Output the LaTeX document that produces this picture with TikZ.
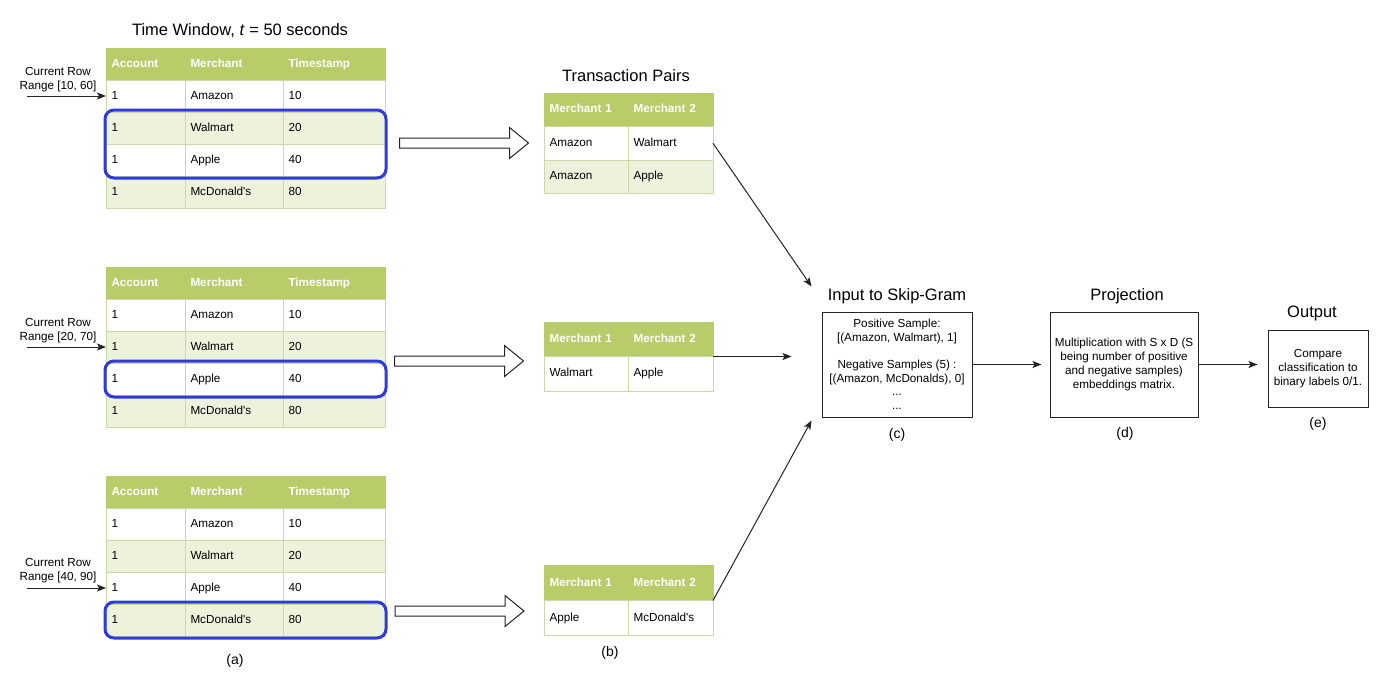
\documentclass[tikz,border=0pt]{standalone}
\usepackage{fontspec}
\setmainfont{Liberation Sans}
\usetikzlibrary{positioning, fit, arrows.meta}

\definecolor{hdrgreen}{RGB}{184,205,106}
\definecolor{rowgreen}{RGB}{237,242,221}
\definecolor{gridc}{RGB}{205,216,170}
\definecolor{hiblue}{RGB}{46,58,220}
\definecolor{linec}{RGB}{35,35,35}

\tikzset{
  cell/.style = {rectangle, draw=gridc, line width=1pt, anchor=north west,
                 outer sep=0pt, inner xsep=5.5pt, inner ysep=0pt, align=left,
                 text height=8.6pt, text depth=2.4pt,
                 font=\fontsize{11.7}{14}\selectfont},
  hdr/.style = {cell, fill=hdrgreen, draw=hdrgreen, text=white,
                font=\fontsize{11.7}{14}\selectfont\bfseries},
  roww/.style = {cell, fill=white},
  rowg/.style = {cell, fill=rowgreen},
  hilite/.style = {rectangle, draw=hiblue, line width=3pt, rounded corners=9pt,
                   inner xsep=1pt, inner ysep=2pt},
  hollow/.style = {draw=linec, line width=1pt, fill=white},
  conn/.style = {draw=linec, line width=1pt, -{Stealth[length=9pt, width=7pt, inset=2pt]}},
  block/.style = {rectangle, draw=linec, line width=1pt, align=center,
                  font=\fontsize{11.7}{13.7}\selectfont},
  title/.style = {font=\fontsize{16.5}{20}\selectfont},
  sublabel/.style = {font=\fontsize{14}{17}\selectfont},
  note/.style = {align=center, font=\fontsize{11.7}{14}\selectfont}
}

\begin{document}
\begin{tikzpicture}[x=1pt, y=-1pt]
\useasboundingbox (0,0) rectangle (1400,699);

% (a) time window tables
\foreach \t/\ty in {t1/48, t2/267, t3/476}{
  \foreach \r/\ca/\cb/\cc/\sty in {0/Account/Merchant/Timestamp/hdr, 1/1/Amazon/10/roww,
      2/1/Walmart/20/rowg, 3/1/Apple/40/roww, 4/1/McDonald\textquotesingle s/80/rowg}{
    \node[\sty, minimum height=32pt, text width=68pt] (\t-\r-1) at (106,{\ty+32*\r}) {\ca};
    \node[\sty, minimum height=32pt, text width=87pt] (\t-\r-2) at (\t-\r-1.north east) {\cb};
    \node[\sty, minimum height=32pt, text width=91pt] (\t-\r-3) at (\t-\r-2.north east) {\cc};
  }
}
\node[title] (twin) at (240,31) {Time Window, \textit{t} = 50 seconds};

\node[hilite, fit=(t1-2-1)(t1-3-3)] (hl1) {};
\node[hilite, fit=(t2-3-1)(t2-3-3)] (hl2) {};
\node[hilite, fit=(t3-4-1)(t3-4-3)] (hl3) {};

% current row pointers
\foreach \t/\lbl/\r/\ly in {t1/{[10, 60]}/1/80, t2/{[20, 70]}/2/331, t3/{[40, 90]}/3/571}{
  \node[note] (cr\t) at (58,\ly) {Current Row\\Range \lbl};
  \coordinate (crs\t) at ([xshift=-79pt]\t-\r-1.west);
  \draw[conn] (crs\t) -- (\t-\r-1.west);
}
\node[sublabel] (capa) at (235,661) {(a)};

% hollow block arrows
\foreach \n/\cx/\cy in {1/464/143, 2/459/361, 3/459.5/611}{
  \coordinate (ba\n) at (\cx,\cy);
  \draw[hollow] ([shift={(-64.5,-5)}]ba\n) -- ++(110,0) -- ++(0,-10.5) -- ++(19,15.5)
     -- ++(-19,15.5) -- ++(0,-10.5) -- ++(-110,0) -- cycle;
}

% (b) transaction pairs
\foreach \r/\ca/\cb/\sty in {0/Merchant 1/Merchant 2/hdr, 1/Amazon/Walmart/roww, 2/Amazon/Apple/rowg}{
  \node[\sty, minimum height=33.5pt, text width=73pt] (p1-\r-1) at (544,{93+33.5*\r}) {\ca};
  \node[\sty, minimum height=33.5pt, text width=74pt] (p1-\r-2) at (p1-\r-1.north east) {\cb};
}
\foreach \r/\ca/\cb/\sty in {0/Merchant 1/Merchant 2/hdr, 1/Walmart/Apple/roww}{
  \node[\sty, minimum height=34.5pt, text width=73pt] (p2-\r-1) at (544,{322+34.5*\r}) {\ca};
  \node[\sty, minimum height=34.5pt, text width=74pt] (p2-\r-2) at (p2-\r-1.north east) {\cb};
}
\foreach \r/\ca/\cb/\sty in {0/Merchant 1/Merchant 2/hdr, 1/Apple/McDonald\textquotesingle s/roww}{
  \node[\sty, minimum height=35pt, text width=73pt] (p3-\r-1) at (544,{565.5+35*\r}) {\ca};
  \node[\sty, minimum height=35pt, text width=74pt] (p3-\r-2) at (p3-\r-1.north east) {\cb};
}
\node[title] (tpairs) at (626,76) {Transaction Pairs};
\node[sublabel] (capb) at (610,653) {(b)};

% (c) skip-gram input
\node[block, minimum width=150pt, minimum height=105pt] (skip) at (897,364.5)
  {Positive Sample:\\{[}(Amazon, Walmart), 1{]}\\[13pt]Negative Samples (5) :\\{[}(Amazon, McDonalds), 0{]}\\...\\...};
\node[title] (tskip) at (897,296) {Input to Skip-Gram};
\node[sublabel] (capc) at (897,435) {(c)};

% (d) projection
\node[block, minimum width=148pt, minimum height=105pt] (proj) at (1124,364.5)
  {Multiplication with S x D (S\\being number of positive\\and negative samples)\\embeddings matrix.};
\node[title] (tproj) at (1127,296) {Projection};
\node[sublabel] (capd) at (1125,434) {(d)};

% (e) output
\node[block, minimum width=100pt, minimum height=77pt] (outp) at (1318,368.5)
  {Compare\\classification to\\binary labels 0/1.};
\node[title] (tout) at (1312,313) {Output};
\node[sublabel] (cape) at (1318,424) {(e)};

% connectors
\draw[conn] (p1-1-2.east) -- ([shift={(-10,-25)}]skip.north west);
\draw[conn] (p2-0-2.south east) -- ([xshift=-30pt]p2-0-2.south east -| skip.west);
\draw[conn] (p3-0-2.south east) -- ([shift={(-10,3)}]skip.south west);
\draw[conn, shorten >=8pt] (skip.east) -- (proj.west);
\draw[conn, shorten >=10pt] (proj.east) -- (proj.east -| outp.west);
\end{tikzpicture}
\end{document}
